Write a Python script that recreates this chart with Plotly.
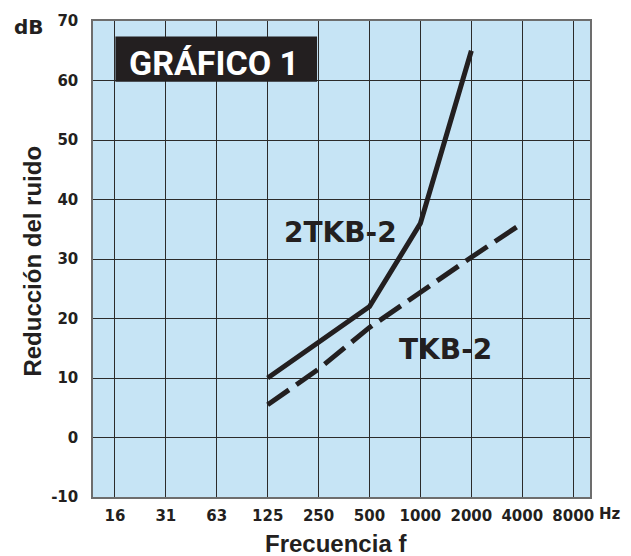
import plotly.graph_objects as go

freq_labels = ["16", "31", "63", "125", "250", "500", "1000", "2000", "4000", "8000"]
y_ticks = [-10, 0, 10, 20, 30, 40, 50, 60, 70]
y_tick_labels = ["-10", "0", "10", "20", "30", "40", "50", "60", "70"]

tkb22_freqs = ["125", "250", "500", "1000", "2000"]
tkb22_vals = [10, 16, 22, 36, 65]

tkb2_freqs = ["125", "250", "500", "1000", "2000", "4000"]
tkb2_vals = [5.5, 11.5, 18.5, 24.5, 30.3, 36]

idx = {f: i for i, f in enumerate(freq_labels)}
ink = "#231F20"
tick_font = dict(family="DejaVu Sans", size=15, color=ink, weight="bold")

fig = go.Figure()
fig.add_trace(go.Scatter(
    x=[idx[f] for f in tkb22_freqs], y=tkb22_vals, mode="lines",
    line=dict(color=ink, width=5), showlegend=False, hoverinfo="skip"))
fig.add_trace(go.Scatter(
    x=[idx[f] for f in tkb2_freqs], y=tkb2_vals, mode="lines",
    line=dict(color=ink, width=5, dash="26px,9px"), showlegend=False, hoverinfo="skip"))

# title box
fig.add_shape(type="rect", xref="x", yref="y", x0=0.01, x1=3.97, y0=59.8, y1=67.4,
              fillcolor="#231F20", line=dict(width=0), layer="above")


def ann(text, x, y, ref, font, **kw):
    d = dict(text=text, x=x, y=y, xref=ref[0], yref=ref[1], showarrow=False,
             xanchor="center", yanchor="middle", font=font)
    d.update(kw)
    return d


bold = lambda fam, size, color=ink: dict(family=fam, size=size, color=color, weight="bold")

annotations = [
    ann("GRÁFICO 1", 1.95, 62.9, ("x", "y"), bold("Roboto", 34, "white")),
    ann("2TKB-2", 4.44, 34.5, ("x", "y"), bold("DejaVu Sans", 28)),
    ann("TKB-2", 6.5, 14.8, ("x", "y"), bold("DejaVu Sans", 28)),
    ann("dB", -0.129, 0.987, ("paper", "paper"), bold("DejaVu Sans", 20)),
    ann("Hz", 1.041, -0.0366, ("paper", "paper"), bold("DejaVu Sans", 15)),
    ann("Frecuencia f", 0.488, -0.097, ("paper", "paper"), bold("Liberation Sans", 24)),
    ann("Reducción del ruido", -0.1218, 0.4955, ("paper", "paper"),
        bold("Liberation Sans", 24), textangle=-90),
]

fig.update_layout(
    width=631, height=556,
    margin=dict(l=93, r=41, t=13, b=59),
    paper_bgcolor="white", plot_bgcolor="#C6E4F5",
    annotations=annotations,
    xaxis=dict(range=[-0.43, 9.33], tickmode="array", tickvals=list(range(len(freq_labels))),
               ticktext=freq_labels, showgrid=True, gridcolor="#2b2b2b", gridwidth=1,
               zeroline=False, showline=True, linecolor="#6d6d6d", linewidth=1.5, mirror=True,
               ticks="", tickfont=tick_font, ticklabelstandoff=4),
    yaxis=dict(range=[-10, 70], tickmode="array", tickvals=y_ticks, ticktext=y_tick_labels,
               showgrid=True, gridcolor="#2b2b2b", gridwidth=1,
               zeroline=False, showline=True, linecolor="#6d6d6d", linewidth=1.5, mirror=True,
               ticks="", tickfont=tick_font, ticklabelstandoff=10),
)

fig.write_html("out.html", config={"displayModeBar": False},
               post_script="document.body.style.margin='0';document.body.style.overflow='hidden';")
